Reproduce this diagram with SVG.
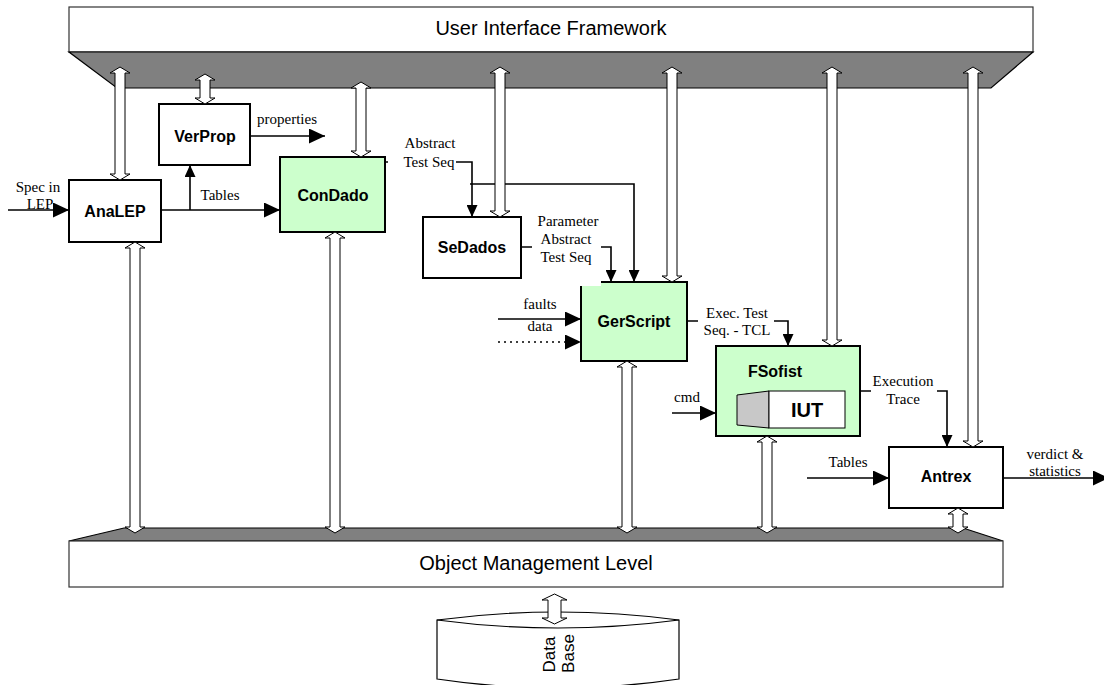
<svg xmlns="http://www.w3.org/2000/svg" width="1104" height="685" viewBox="0 0 1104 685">
<style>
.band{fill:#ffffff;stroke:#333;stroke-width:1.2}
.shade{fill:#808080;stroke:#000;stroke-width:1.2}
.box{fill:#ffffff;stroke:#000;stroke-width:2}
.green{fill:#ccffcc;stroke:#000;stroke-width:2}
.name{font-family:"Liberation Sans",Arial,sans-serif;font-weight:bold;font-size:16px;text-anchor:middle;fill:#000}
.title{font-family:"Liberation Sans",Arial,sans-serif;font-size:20px;text-anchor:middle;fill:#000}
.lbl{font-family:"Liberation Serif","Times New Roman",serif;font-size:15px;text-anchor:middle;fill:#000}
.ln{fill:none;stroke:#000;stroke-width:1.6}
.dbl{fill:#ffffff;stroke:#000;stroke-width:1}
.bg{fill:#ffffff;stroke:none}
</style>
<defs>
<marker id="big" viewBox="0 0 16 15" refX="16" refY="7.5" markerWidth="16" markerHeight="15" markerUnits="userSpaceOnUse" orient="auto">
<path d="M0,0 L16,7.5 L0,15 Z" fill="#000"/>
</marker>
<marker id="small" viewBox="0 0 12 11" refX="12" refY="5.5" markerWidth="12" markerHeight="11" markerUnits="userSpaceOnUse" orient="auto">
<path d="M0,0 L12,5.5 L0,11 Z" fill="#000"/>
</marker>
</defs>

<!-- User Interface Framework -->
<g id="ui-framework">
<rect class="band" x="69" y="7" width="964" height="45"/>
<polygon class="shade" points="69,52 1033,52 991,88 117,88"/>
<text class="title" x="551" y="35">User Interface Framework</text>
</g>

<!-- Object Management Level -->
<g id="object-management">
<polygon class="shade" points="124,528 963,528 1003,541 69,541"/>
<rect class="band" x="69" y="541" width="934" height="46"/>
<text class="title" x="536" y="570">Object Management Level</text>
</g>

<!-- Data Base -->
<g id="database">
<path d="M437,620 Q558,604 679,620 L679,679 Q558,697 437,679 Z" fill="#fff" stroke="#000" stroke-width="1.2"/>
<path d="M437,620 Q558,636 679,620" fill="none" stroke="#000" stroke-width="1.2"/>
<text class="title" style="font-size:17px" transform="translate(555,654.5) rotate(-90)">Data</text>
<text class="title" style="font-size:17px" transform="translate(574,653.5) rotate(-90)">Base</text>
</g>

<g id="AnaLEP">
<rect class="box" x="69" y="180" width="92" height="62"/>
<text class="name" x="115" y="217">AnaLEP</text>
</g>
<g id="VerProp">
<rect class="box" x="159" y="104" width="91" height="61"/>
<text class="name" x="205" y="142">VerProp</text>
</g>
<g id="ConDado">
<rect class="green" x="280" y="157" width="105" height="75"/>
<text class="name" x="333" y="201">ConDado</text>
</g>
<g id="SeDados">
<rect class="box" x="423" y="217" width="98" height="61"/>
<text class="name" x="472" y="253">SeDados</text>
</g>
<g id="GerScript">
<rect class="green" x="581" y="282" width="106" height="79"/>
<text class="name" x="634" y="327">GerScript</text>
</g>
<g id="FSofist">
<rect class="green" x="716" y="346" width="144" height="90"/>
<text class="name" x="775" y="377">FSofist</text>
<polygon points="737,395 769,391 769,428 737,425" fill="#c8c8c8" stroke="#000" stroke-width="1"/>
<rect x="769" y="391" width="76" height="37" fill="#fff" stroke="#000" stroke-width="1"/>
<text class="name" style="font-size:20px" x="807" y="417">IUT</text>
</g>
<g id="Antrex">
<rect class="box" x="889" y="447" width="114" height="61"/>
<text class="name" x="946" y="482">Antrex</text>
</g>

<g id="connectors">
<!-- data flow lines -->
<path class="ln" d="M8,210 H69" marker-end="url(#big)"/>
<path class="ln" d="M161,210 H280" stroke-width="2" marker-end="url(#big)"/>
<path class="ln" d="M190,210 V165" marker-end="url(#small)"/>
<path class="ln" d="M250,136 H325" marker-end="url(#big)"/>
<path class="ln" d="M385,162 H472 V217" marker-end="url(#small)"/>
<path class="ln" d="M470,184 H634 V282" marker-end="url(#small)"/>
<path class="ln" d="M521,247 H611 V282" marker-end="url(#small)"/>
<path class="ln" d="M498,319 H581" stroke-width="1.2" marker-end="url(#big)"/>
<path class="ln" d="M498,342 H581" stroke-width="1.2" stroke-dasharray="2,4" marker-end="url(#big)"/>
<path class="ln" d="M687,321 H788 V346" marker-end="url(#small)"/>
<path class="ln" d="M672,413 H716" marker-end="url(#big)"/>
<path class="ln" d="M860,391 H947 V447" marker-end="url(#small)"/>
<path class="ln" d="M807,478 H889" marker-end="url(#big)"/>
<path class="ln" d="M1003,478 H1109" marker-end="url(#big)"/>

<!-- labels -->
<text class="lbl" x="38" y="192">Spec in</text>
<text class="lbl" x="40" y="209">LEP</text>
<text class="lbl" x="220" y="200">Tables</text>
<text class="lbl" x="287" y="124">properties</text>
<rect class="bg" x="388" y="132" width="68" height="38"/>
<text class="lbl" x="430" y="148">Abstract</text>
<text class="lbl" x="429" y="167">Test Seq</text>
<rect class="bg" x="532" y="209" width="69" height="77"/>
<text class="lbl" x="568" y="226">Parameter</text>
<text class="lbl" x="566" y="244">Abstract</text>
<text class="lbl" x="566" y="262">Test Seq</text>
<text class="lbl" x="540" y="309">faults</text>
<text class="lbl" x="540" y="331">data</text>
<rect class="bg" x="698" y="302" width="76" height="38"/>
<text class="lbl" x="737" y="318">Exec. Test</text>
<text class="lbl" x="737" y="335">Seq. - TCL</text>
<text class="lbl" x="687" y="402">cmd</text>
<rect class="bg" x="871" y="370" width="66" height="40"/>
<text class="lbl" x="903" y="386">Execution</text>
<text class="lbl" x="903" y="404">Trace</text>
<text class="lbl" x="848" y="467">Tables</text>
<text class="lbl" x="1055" y="459">verdict &amp;</text>
<text class="lbl" x="1055" y="476">statistics</text>

<!-- double (hollow) arrows: framework to tools -->
<path class="dbl" d="M120,67 L130,73 L125,73 L125,174 L130,174 L120,180 L110,174 L115,174 L115,73 L110,73 Z"/>
<path class="dbl" d="M205,74 L215,80 L210,80 L210,98 L215,98 L205,104 L195,98 L200,98 L200,80 L195,80 Z"/>
<path class="dbl" d="M361,82 L371,88 L366,88 L366,151 L371,151 L361,157 L351,151 L356,151 L356,88 L351,88 Z"/>
<path class="dbl" d="M500,67 L510,73 L505,73 L505,211 L510,211 L500,217 L490,211 L495,211 L495,73 L490,73 Z"/>
<path class="dbl" d="M672,67 L682,73 L677,73 L677,276 L682,276 L672,282 L662,276 L667,276 L667,73 L662,73 Z"/>
<path class="dbl" d="M832,67 L842,73 L837,73 L837,340 L842,340 L832,346 L822,340 L827,340 L827,73 L822,73 Z"/>
<path class="dbl" d="M973,67 L983,73 L978,73 L978,441 L983,441 L973,447 L963,441 L968,441 L968,73 L963,73 Z"/>
<!-- double arrows: tools to object management -->
<path class="dbl" d="M135,242 L145,248 L140,248 L140,527 L145,527 L135,533 L125,527 L130,527 L130,248 L125,248 Z"/>
<path class="dbl" d="M335,232 L345,238 L340,238 L340,527 L345,527 L335,533 L325,527 L330,527 L330,238 L325,238 Z"/>
<path class="dbl" d="M627,361 L637,367 L632,367 L632,527 L637,527 L627,533 L617,527 L622,527 L622,367 L617,367 Z"/>
<path class="dbl" d="M767,436 L777,442 L772,442 L772,527 L777,527 L767,533 L757,527 L762,527 L762,442 L757,442 Z"/>
<path class="dbl" d="M958,508 L968,514 L963,514 L963,527 L968,527 L958,533 L948,527 L953,527 L953,514 L948,514 Z"/>
<!-- object management to data base -->
<path class="dbl" d="M554.5,594 L567,600 L561,600 L561,618 L567,618 L554.5,624 L542,618 L548,618 L548,600 L542,600 Z"/>
</g>
</svg>
